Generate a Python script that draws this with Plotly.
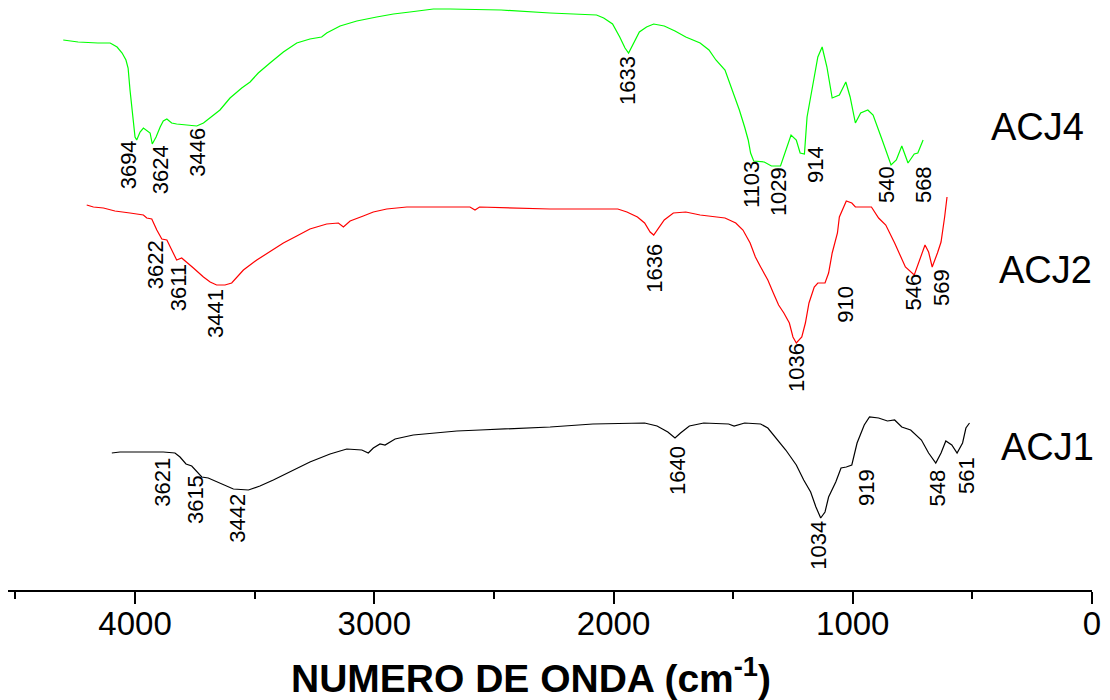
import plotly.graph_objects as go

# ---------------- data (wavenumber cm-1, transmittance in arbitrary offset units) -------------
acj4_x = [4300, 4238, 4155, 4104, 4075, 4054, 4038, 4029, 4021, 4010,
          4000, 3993, 3979, 3965, 3950, 3937, 3928, 3912, 3895, 3882,
          3867, 3847, 3826, 3777, 3742, 3714, 3686, 3645, 3603, 3554,
          3519, 3485, 3436, 3380, 3324, 3269, 3220, 3199, 3143, 3073,
          2990, 2920, 2851, 2753, 2683, 2470,
          2265, 2138, 2071, 2041, 2004, 1974, 1952, 1937, 1914, 1892,
          1862, 1832, 1788, 1743, 1698, 1638, 1601, 1572, 1534, 1519,
          1496, 1474, 1452, 1437, 1427, 1414, 1370, 1340, 1302, 1280,
          1258, 1236, 1220, 1202, 1191, 1161, 1146, 1128, 1108, 1086,
          1056, 1029, 1011, 989, 967, 937, 915, 877, 847, 840,
          818, 795, 769, 743, 728, 706]
acj4_y = [551, 549, 548, 548, 544, 538, 531, 523, 501, 474,
          454, 451, 459, 463, 460, 458, 447, 454, 464, 470,
          472, 468, 467, 466, 465, 468, 473, 481, 493, 503,
          509, 518, 528, 539, 548, 552, 554, 558, 565, 570,
          574, 577, 579, 582, 582, 581,
          578, 577, 576, 573, 567, 554, 543, 538, 548, 559,
          564, 567, 565, 560, 554, 548, 541, 531, 521, 511,
          494, 481, 464, 451, 438, 430, 429, 425, 425, 441,
          456, 451, 438, 437, 474, 514, 534, 544, 524, 493,
          496, 509, 494, 468, 478, 481, 476, 451, 431, 426,
          431, 445, 428, 437, 438, 451]

acj2_x = [4202, 4174, 4132, 4084, 4021, 3965, 3951, 3930, 3909, 3888,
          3867, 3847, 3826, 3805, 3784, 3756, 3714, 3686, 3659, 3624,
          3596, 3575, 3547, 3491, 3436, 3380, 3324, 3269, 3199, 3150,
          3129, 3101, 3046, 3004, 2948, 2864, 2683, 2600, 2579, 2560,
          2265, 1982, 1944, 1900, 1870, 1847, 1832, 1810, 1788, 1750,
          1698, 1638, 1534, 1489, 1459, 1429, 1407, 1385, 1355, 1332,
          1310, 1288, 1265, 1250, 1236, 1213, 1198, 1183, 1161, 1146,
          1116, 1101, 1086, 1064, 1056, 1027, 1004, 989, 922, 892,
          862, 825, 780, 743, 721, 698, 683, 668, 646, 631,
          616, 606]
acj2_y = [386, 384, 383, 380, 378, 376, 373, 372, 361, 352,
          351, 341, 331, 333, 329, 323, 314, 309, 306, 306,
          308, 314, 321, 331, 339, 348, 355, 362, 367, 368,
          364, 370, 375, 379, 382, 384, 384, 384, 381, 384,
          382, 382, 379, 374, 368, 359, 356, 363, 371, 378,
          379, 376, 373, 368, 361, 348, 334, 324, 311, 298,
          286, 278, 268, 254, 248, 254, 268, 288, 304, 308,
          308, 318, 338, 358, 374, 390, 388, 384, 384, 373,
          366, 348, 324, 316, 331, 346, 339, 324, 338, 349,
          374, 394]

acj1_x = [4097, 4063, 3882, 3833, 3812, 3787, 3763, 3742, 3721, 3694,
          3645, 3589, 3526, 3478, 3422, 3352, 3269, 3185, 3115, 3052,
          3025, 3004, 2976, 2955, 2913, 2837, 2753, 2655, 2558,
          2265, 2086, 1952, 1870, 1818, 1773, 1743, 1720, 1683, 1623,
          1519, 1496, 1452, 1385, 1355, 1325, 1280, 1236, 1205, 1176,
          1154, 1134, 1116, 1101, 1071, 1049, 1027, 1004, 982, 952,
          930, 892, 855, 825, 795, 758, 713, 683, 653, 631,
          611, 586, 564, 541, 527, 512]
acj1_y = [138, 139, 139, 138, 134, 127, 125, 119, 114, 113,
          108, 102, 101, 105, 111, 119, 129, 137, 142, 141,
          138, 143, 147, 146, 152, 156, 158, 160, 161,
          164, 167, 168, 168, 165, 159, 153, 158, 165, 168,
          167, 165, 168, 167, 163, 154, 141, 126, 111, 99,
          84, 73, 79, 94, 109, 123, 124, 126, 148, 166,
          174, 173, 170, 171, 164, 161, 151, 138, 128, 138,
          150, 146, 138, 148, 163, 168]

# peak labels: (text, wavenumber, level)
acj4_peaks = [("3694", 4028, 426), ("3624", 3895, 421), ("3446", 3742, 439),
              ("1633", 1944, 511), ("1103", 1425, 406), ("1029", 1312, 399),
              ("914", 1158, 427), ("540", 861, 406), ("568", 706, 406)]
acj2_peaks = [("3622", 3916, 326), ("3611", 3819, 303), ("3441", 3666, 278),
              ("1636", 1832, 323), ("1036", 1237, 223), ("910", 1034, 287),
              ("546", 750, 299), ("569", 631, 303)]
acj1_peaks = [("3621", 3888, 109), ("3615", 3749, 91), ("3442", 3575, 73),
              ("1640", 1735, 121), ("1034", 1146, 46), ("919", 945, 104),
              ("548", 646, 103), ("561", 527, 116)]

series_names = ["ACJ4", "ACJ2", "ACJ1"]
name_pos = [(226, 464), (196, 321), (188, 144)]

x_tickvals = [4000, 3000, 2000, 1000, 0]
x_ticktext = ["4000", "3000", "2000", "1000", "0"]

# ---------------- figure ----------------
fig = go.Figure()
colors = ["#00FF00", "#FF0000", "#000000"]
for xs, ys, c, n in [(acj4_x, acj4_y, colors[0], "ACJ4"),
                     (acj2_x, acj2_y, colors[1], "ACJ2"),
                     (acj1_x, acj1_y, colors[2], "ACJ1")]:
    fig.add_trace(go.Scatter(x=xs, y=ys, mode="lines", name=n,
                             line=dict(color=c, width=1.2), showlegend=False,
                             hoverinfo="skip"))

label_font = dict(family="Arial, Liberation Sans, sans-serif", size=22, color="black")
for peaks in (acj4_peaks, acj2_peaks, acj1_peaks):
    for txt, wx, wy in peaks:
        fig.add_annotation(x=wx, y=wy, text=txt, textangle=-90, showarrow=False,
                           xanchor="center", yanchor="middle", font=label_font)

for n, (wx, wy) in zip(series_names, name_pos):
    fig.add_annotation(x=wx, y=wy, text=n, showarrow=False, xanchor="center",
                       yanchor="middle",
                       font=dict(family="Arial, Liberation Sans, sans-serif",
                                 size=38, color="black"))

fig.add_annotation(x=0.4825, y=-0.145, xref="paper", yref="paper",
                   text="<b>NUMERO DE ONDA (cm<sup>-1</sup>)</b>", showarrow=False,
                   xanchor="center", yanchor="middle",
                   font=dict(family="Arial, Liberation Sans, sans-serif",
                             size=39, color="black"))

fig.update_xaxes(range=[4531, 0], showline=True, linecolor="black", linewidth=2,
                 ticks="outside", ticklen=12, tickwidth=2, tickcolor="black",
                 tickvals=x_tickvals, ticktext=x_ticktext, ticklabelstandoff=-9,
                 minor=dict(dtick=500, tick0=0, ticks="outside", ticklen=7,
                            tickwidth=2, tickcolor="black", showgrid=False),
                 showgrid=False, zeroline=False,
                 tickfont=dict(family="Arial, Liberation Sans, sans-serif",
                               size=33, color="black"))
fig.update_yaxes(range=[1, 591], visible=False, showgrid=False, zeroline=False)

fig.update_layout(width=1110, height=700, margin=dict(l=8, r=18, t=0, b=110),
                  plot_bgcolor="white", paper_bgcolor="white")

fig.write_html("out.html")
